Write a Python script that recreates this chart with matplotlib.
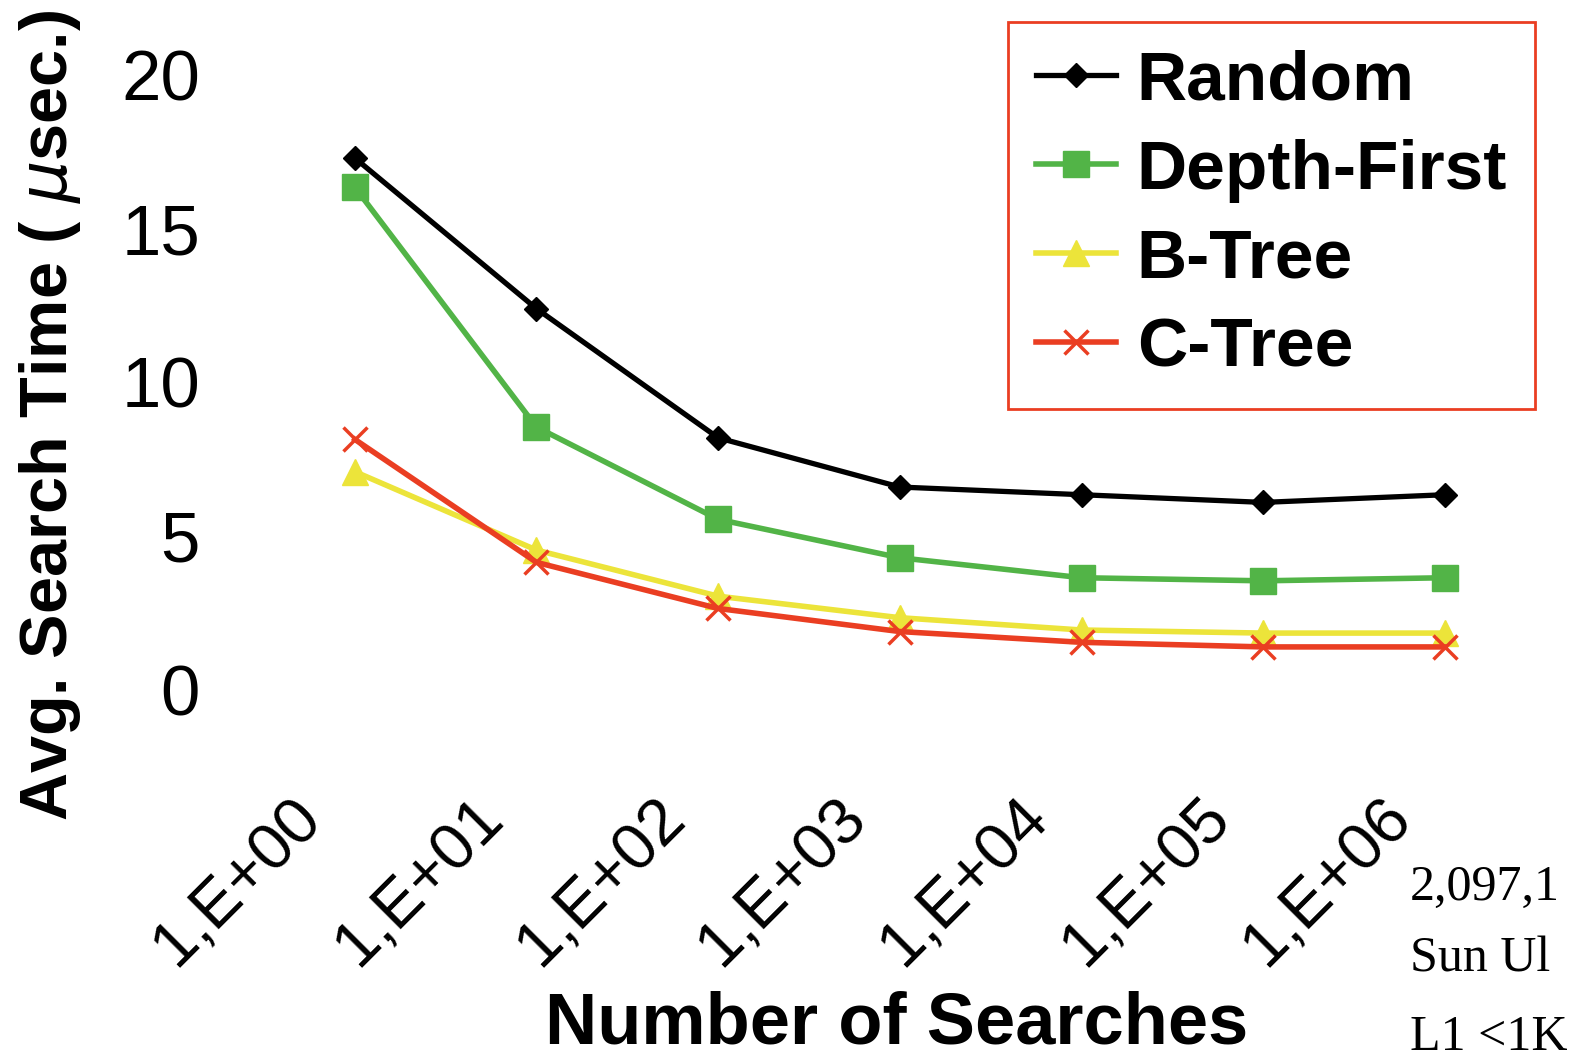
import matplotlib.pyplot as plt

# data
x_labels = ["1,E+00", "1,E+01", "1,E+02", "1,E+03", "1,E+04", "1,E+05", "1,E+06"]
random_t = [17.3, 12.4, 8.2, 6.6, 6.35, 6.1, 6.35]
depth_first = [16.35, 8.55, 5.55, 4.3, 3.65, 3.55, 3.65]
b_tree = [7.1, 4.55, 3.05, 2.35, 1.95, 1.85, 1.85]
c_tree = [8.15, 4.15, 2.65, 1.9, 1.55, 1.4, 1.4]
side_notes = ["2,097,1", "Sun Ul", "L1 <1K"]

plt.rcParams["font.family"] = ["Liberation Sans", "DejaVu Sans"]

fig = plt.figure(figsize=(15.74, 10.61), dpi=100)
ax = fig.add_axes([0.1677, 0.3497, 0.808, 0.5796])

xs = list(range(len(x_labels)))
ax.plot(xs, random_t, color="black", lw=3.8, marker="D", ms=12, label="Random")
ax.plot(xs, depth_first, color="#52b447", lw=4, marker="s", ms=19, label="Depth-First")
ax.plot(xs, b_tree, color="#ece43a", lw=4, marker="^", ms=19, label="B-Tree")
ax.plot(xs, c_tree, color="#ea3e22", lw=4, marker="x", ms=17, mew=2.5, label="C-Tree")

ax.set_xlim(-0.5, 6.5)
ax.set_ylim(0, 20)
ax.set_yticks([0, 5, 10, 15, 20])
ax.tick_params(axis="y", length=0, pad=46, labelsize=51)
ax.set_xticks([i - 0.12 for i in xs])
ax.set_xticklabels(x_labels, rotation=45, ha="right", va="top", fontsize=47)
ax.tick_params(axis="x", length=0, pad=70)
for s in ax.spines.values():
    s.set_visible(False)

fig.text(50 / 1574, 1 - 415 / 1061, "Avg. Search Time ( $\\mu$sec.)", rotation=90,
         ha="center", va="center", fontsize=48, fontweight="bold")
fig.text(897 / 1574, 1 - 1043 / 1061, "Number of Searches", ha="center",
         va="baseline", fontsize=52, fontweight="bold")

for txt, yb in zip(side_notes, [900, 972, 1050]):
    fig.text(1410 / 1574, 1 - yb / 1061, txt, ha="left", va="baseline",
             fontsize=36, family="Liberation Serif")

leg = ax.legend(loc="upper right", bbox_to_anchor=(1535 / 1574, 1 - 22 / 1061),
                bbox_transform=fig.transFigure, fancybox=False, framealpha=1,
                edgecolor="#ea3e22", prop={"size": 50, "weight": "bold"},
                handlelength=1.15, handletextpad=0.3, labelspacing=0.36,
                borderpad=0.4, borderaxespad=0)
leg.get_frame().set_linewidth(2)

fig.savefig("out.png", dpi=100)
